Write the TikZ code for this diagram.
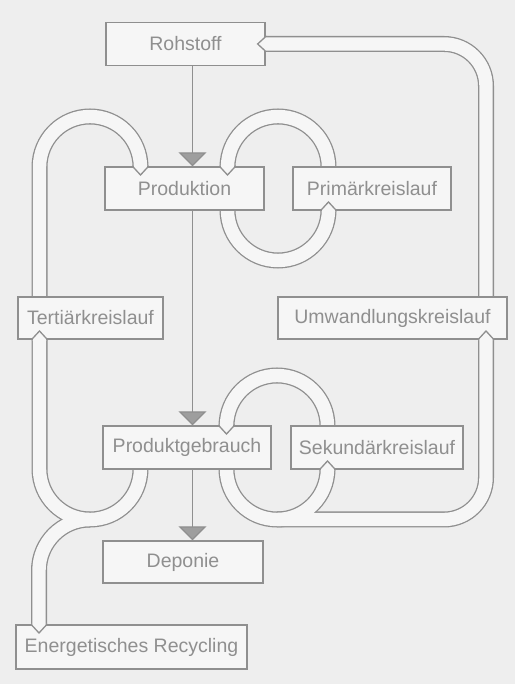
\documentclass[tikz,border=0pt]{standalone}
\usepackage{fontspec}
\setmainfont{Liberation Sans}
\usetikzlibrary{arrows.meta}

\definecolor{fondo}{gray}{0.935}
\definecolor{papel}{gray}{0.965}
\definecolor{linea}{gray}{0.56}
\definecolor{relleno}{gray}{0.62}

\tikzset{
  caja/.style={draw=linea, fill=papel, line width=1.3pt, inner sep=0pt,
    minimum height=43pt, text=linea, font=\fontsize{19.5}{22}\selectfont},
  flujo/.style={draw=linea, line width=1.3pt,
    -{Triangle[width=28pt,length=14pt,fill=relleno]}},
  tubo/.style={draw=linea, line width=16pt},
  tubointerior/.style={draw=papel, line width=13.4pt},
  entrada/.pic={
    \filldraw[draw=linea, fill=papel, line width=1.3pt]
      (-7.35,1.5) -- (-7.35,0) -- (0,-8) -- (7.35,0) -- (7.35,1.5);
  }
}

\begin{document}
\begin{tikzpicture}[x=1pt, y=1pt]
    % Fondo
    \fill[fondo] (0,0) rectangle (515,684);
    \useasboundingbox (0,0) rectangle (515,684);

    % Tubos: primero el borde, luego el interior
    \foreach \capa in {tubo, tubointerior} {
        % Primärkreislauf
        \draw[\capa] (227.5,517) arc[start angle=180, end angle=0, radius=50.5]
            -- (328.5,474) arc[start angle=0, end angle=-180, radius=50.5] -- cycle;
        % Sekundärkreislauf
        \draw[\capa] (226.5,258) arc[start angle=180, end angle=0, radius=50.5]
            -- (327.5,215) arc[start angle=0, end angle=-180, radius=50.5] -- cycle;
        % Umwandlungskreislauf
        \draw[\capa, rounded corners=42pt] (277,164.5) -- (486,164.5) -- (486,640) -- (265,640);
        % Tertiärkreislauf
        \draw[\capa] (140.5,235) -- (140.5,215) arc[start angle=0, end angle=-180, radius=50.5]
            -- (39.5,517) arc[start angle=180, end angle=0, radius=50.5] -- (140.5,500);
        % Energetisches Recycling
        \draw[\capa] (90,164.5) arc[start angle=90, end angle=180, radius=51] -- (39,50);
    }

    % Cajas
    \node[caja, minimum width=159pt] (rohstoff)   at (185.5,640) {Rohstoff};
    \node[caja, minimum width=159pt] (produktion) at (184.5,495.5) {Produktion};
    \node[caja, minimum width=158pt] (primaer)    at (372,495.5) {Primärkreislauf};
    \node[caja, minimum width=145pt, minimum height=42pt] (tertiaer) at (90.5,366) {Tertiärkreislauf};
    \node[caja, minimum width=229pt, minimum height=42pt] (umwandlung) at (392.5,366) {Umwandlungskreislauf};
    \node[caja, minimum width=168pt] (gebrauch)   at (187,236.5) {Produktgebrauch};
    \node[caja, minimum width=172pt] (sekundaer)  at (377,236.5) {Sekundärkreislauf};
    \node[caja, minimum width=160pt, minimum height=42pt] (deponie) at (183,122) {Deponie};
    \node[caja, minimum width=231pt, minimum height=44pt] (energie) at (131.5,37) {Energetisches Recycling};

    % Puntas de los tubos
    \pic at (227.5,517) {entrada};
    \pic[rotate=180] at (328.5,474) {entrada};
    \pic at (226.5,258) {entrada};
    \pic[rotate=180] at (327.5,215) {entrada};
    \pic[rotate=180] at (486,345) {entrada};
    \pic[rotate=-90] at (rohstoff.east) {entrada};
    \pic at (140.5,517) {entrada};
    \pic[rotate=180] at (39.5,345) {entrada};
    \pic at (39,59) {entrada};

    % Flechas del eje central
    \coordinate (eje) at (192.5,0);
    \draw[flujo] (rohstoff.south -| eje) -- (produktion.north -| eje);
    \draw[flujo] (produktion.south -| eje) -- (gebrauch.north -| eje);
    \draw[flujo] (gebrauch.south -| eje) -- (deponie.north -| eje);
\end{tikzpicture}
\end{document}
